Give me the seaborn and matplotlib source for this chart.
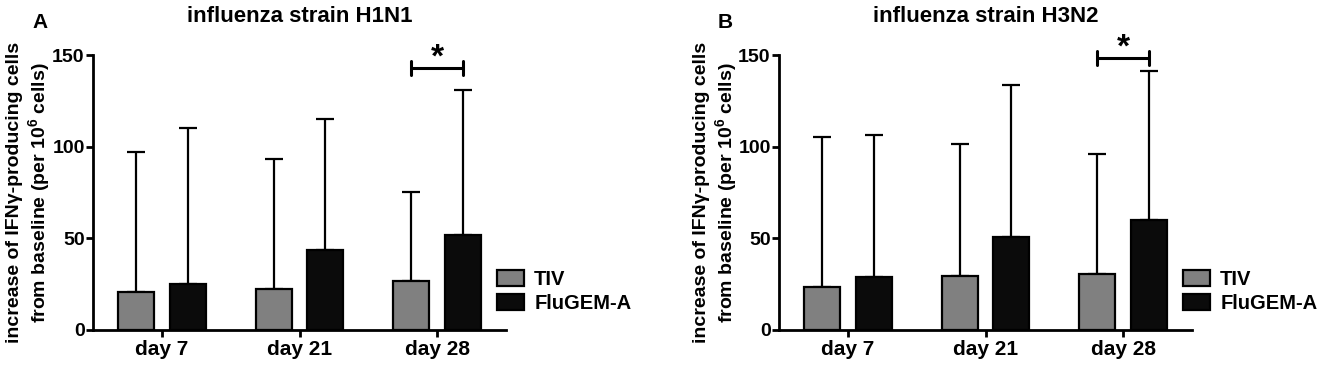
import numpy as np
import pandas as pd
import matplotlib
matplotlib.use('Agg')
import matplotlib.pyplot as plt
from matplotlib.patches import Patch
import seaborn as sns

sns.set_style('ticks')
plt.rcParams['font.family'] = ['Liberation Sans', 'DejaVu Sans']
plt.rcParams['font.weight'] = 'bold'
plt.rcParams['mathtext.fontset'] = 'custom'
plt.rcParams['mathtext.rm'] = 'Liberation Sans:bold'
plt.rcParams['mathtext.bf'] = 'Liberation Sans:bold'
plt.rcParams['mathtext.it'] = 'Liberation Sans:bold'
for k in ('text.color', 'axes.labelcolor', 'axes.edgecolor',
          'xtick.color', 'ytick.color'):
    plt.rcParams[k] = 'black'

# data (mean and upper SD)
days = ['day 7', 'day 21', 'day 28']
groups = ['TIV', 'FluGEM-A']

h1n1_tiv = [20.9, 22.5, 26.7]
h1n1_tiv_sd = [76.4, 70.8, 48.8]
h1n1_flu = [25.1, 43.6, 52.0]
h1n1_flu_sd = [85.3, 71.7, 78.9]

h3n2_tiv = [23.6, 29.7, 30.3]
h3n2_tiv_sd = [81.6, 71.9, 65.8]
h3n2_flu = [29.0, 50.6, 60.2]
h3n2_flu_sd = [77.1, 83.1, 80.9]

# significance bracket height (day 28, TIV vs FluGEM-A)
sig_y_h1n1 = 143
sig_y_h3n2 = 148.5

colors = {'TIV': '#808080', 'FluGEM-A': '#0b0b0b'}

fig = plt.figure(figsize=(13.23, 3.66), dpi=100)
W, H = 1323, 366
ax_a = fig.add_axes([93 / W, 36 / H, 413 / W, 275 / H])
ax_b = fig.add_axes([779 / W, 36 / H, 413 / W, 275 / H])

ylabel = 'increase of IFNγ-producing cells\nfrom baseline (per 10$^{6}$ cells)'


def panel(ax, tiv, tiv_sd, flu, flu_sd, title, sig_y):
    df = pd.DataFrame({
        'day': days * 2,
        'vaccine': [g for g in groups for _ in days],
        'value': tiv + flu,
    })
    sns.barplot(data=df, x='day', y='value', hue='vaccine', order=days,
                hue_order=groups, palette=colors, width=0.75, gap=0.3,
                edgecolor='black', linewidth=1.6, errorbar=None,
                legend=False, ax=ax)

    # one-sided SD bars on top of each bar
    bars = sorted(ax.patches, key=lambda p: p.get_x())
    sds = [v for pair in zip(tiv_sd, flu_sd) for v in pair]
    xs = [p.get_x() + p.get_width() / 2 for p in bars]
    ys = [p.get_height() for p in bars]
    ax.errorbar(xs, ys, yerr=[np.zeros(len(sds)), sds], fmt='none',
                ecolor='black', elinewidth=1.6, capsize=6.8, capthick=1.6,
                zorder=0.5)

    # significance bracket day 28
    x0, x1 = xs[4], xs[5]
    ax.plot([x0, x1], [sig_y, sig_y], color='black', lw=2.2, clip_on=False)
    for xx in (x0, x1):
        ax.plot([xx, xx], [sig_y - 3.8, sig_y + 3.8], color='black', lw=2.2,
                clip_on=False)
    ax.text((x0 + x1) / 2, sig_y + 0.5, '*', ha='center', va='baseline',
            fontsize=24, fontweight='bold', clip_on=False)

    ax.set_xlim(-0.5, 2.5)
    ax.set_ylim(0, 150)
    ax.set_yticks([0, 50, 100, 150])
    ax.set_xlabel('')
    ax.set_ylabel('')
    ax.set_title(title, fontsize=16, fontweight='bold', pad=24)
    sns.despine(ax=ax)
    for s in ('left', 'bottom'):
        ax.spines[s].set_linewidth(2)
    ax.tick_params(axis='both', width=2, length=5, colors='black')
    ax.tick_params(axis='y', labelsize=14, pad=1)
    ax.tick_params(axis='x', labelsize=15, pad=2)

    handles = [Patch(facecolor=colors[g], edgecolor='black', linewidth=1.6,
                     label=g) for g in groups]
    ax.legend(handles=handles, loc='upper left', bbox_to_anchor=(0.978, 0.22),
              frameon=False, handlelength=1.35, handleheight=0.85,
              handletextpad=0.5, labelspacing=0.25, borderaxespad=0,
              borderpad=0, fontsize=14.5)


panel(ax_a, h1n1_tiv, h1n1_tiv_sd, h1n1_flu, h1n1_flu_sd,
      'influenza strain H1N1', sig_y_h1n1)
panel(ax_b, h3n2_tiv, h3n2_tiv_sd, h3n2_flu, h3n2_flu_sd,
      'influenza strain H3N2', sig_y_h3n2)

for xc in (29, 716):
    fig.text(xc / W, (H - 192.5) / H, ylabel, rotation=90, ha='center',
             va='center', multialignment='center', linespacing=1.2,
             fontsize=14, fontweight='bold')

fig.text(32 / W, 1 - 28 / H, 'A', fontsize=15, fontweight='bold', va='baseline')
fig.text(718 / W, 1 - 28 / H, 'B', fontsize=15, fontweight='bold', va='baseline')

fig.savefig('out.png', dpi=100)
